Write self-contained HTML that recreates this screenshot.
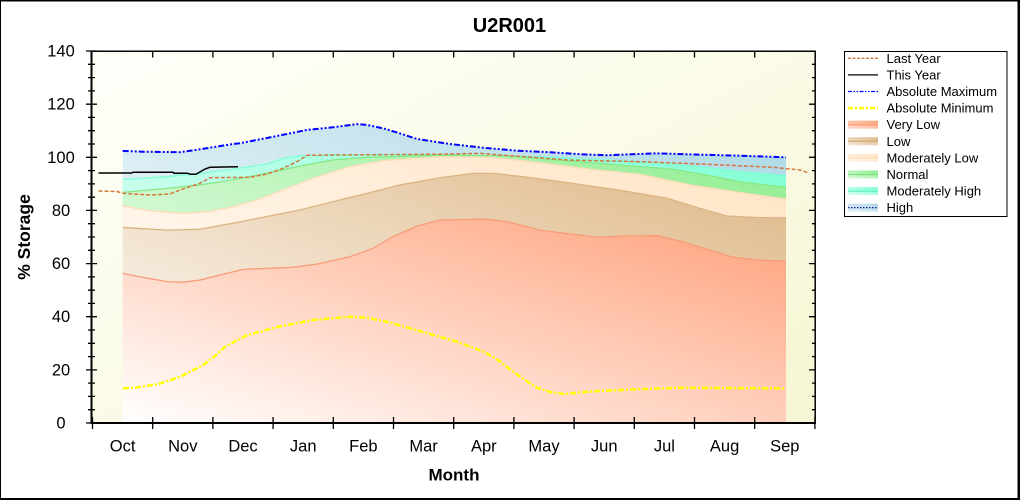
<!DOCTYPE html>
<html>
<head>
<meta charset="utf-8">
<style>
  html,body{margin:0;padding:0;background:#fff;}
  svg{display:block;font-family:"Liberation Sans",Arial,sans-serif;}
</style>
</head>
<body>
<svg width="1020" height="500" viewBox="0 0 1020 500" xmlns="http://www.w3.org/2000/svg">
  <defs>
    <linearGradient id="bg" x1="0" y1="0" x2="1" y2="1">
      <stop offset="0" stop-color="#fffffa"/>
      <stop offset="1" stop-color="#f6f6d3"/>
    </linearGradient>
    <linearGradient id="gH" x1="0" y1="0" x2="1" y2="1">
      <stop offset="0" stop-color="#ffffff"/><stop offset="1" stop-color="#add8e6"/>
    </linearGradient>
    <linearGradient id="gMH" x1="0" y1="0" x2="1" y2="1">
      <stop offset="0" stop-color="#ffffff"/><stop offset="1" stop-color="#7fffd4"/>
    </linearGradient>
    <linearGradient id="gN" x1="0" y1="0" x2="1" y2="1">
      <stop offset="0" stop-color="#ffffff"/><stop offset="1" stop-color="#90ee90"/>
    </linearGradient>
    <linearGradient id="gML" x1="0" y1="0" x2="1" y2="1">
      <stop offset="0" stop-color="#ffffff"/><stop offset="1" stop-color="#ffe4c4"/>
    </linearGradient>
    <linearGradient id="gL" x1="0" y1="0" x2="1" y2="1">
      <stop offset="0" stop-color="#ffffff"/><stop offset="1" stop-color="#deb887"/>
    </linearGradient>
    <linearGradient id="gVL" x1="0" y1="0" x2="1" y2="1">
      <stop offset="0" stop-color="#ffffff"/><stop offset="1" stop-color="#ffa07a"/>
    </linearGradient>
    <linearGradient id="sH" x1="0" y1="1" x2="1" y2="0">
      <stop offset="0" stop-color="#e6f3f7"/><stop offset="1" stop-color="#add8e6"/>
    </linearGradient>
    <linearGradient id="sMH" x1="0" y1="1" x2="1" y2="0">
      <stop offset="0" stop-color="#d8fff2"/><stop offset="1" stop-color="#7fffd4"/>
    </linearGradient>
    <linearGradient id="sN" x1="0" y1="1" x2="1" y2="0">
      <stop offset="0" stop-color="#ddf9dd"/><stop offset="1" stop-color="#90ee90"/>
    </linearGradient>
    <linearGradient id="sML" x1="0" y1="1" x2="1" y2="0">
      <stop offset="0" stop-color="#fff6ec"/><stop offset="1" stop-color="#ffe4c4"/>
    </linearGradient>
    <linearGradient id="sL" x1="0" y1="1" x2="1" y2="0">
      <stop offset="0" stop-color="#f4e9dc"/><stop offset="1" stop-color="#deb887"/>
    </linearGradient>
    <linearGradient id="sVL" x1="0" y1="1" x2="1" y2="0">
      <stop offset="0" stop-color="#ffe0d4"/><stop offset="1" stop-color="#ffa07a"/>
    </linearGradient>
  </defs>

  <rect x="0" y="0" width="1020" height="500" fill="#ffffff"/>
  <rect x="0" y="0" width="1020" height="1.5" fill="#000"/>
  <rect x="0" y="0" width="1" height="500" fill="#000"/>
  <rect x="1017.5" y="0" width="2.5" height="500" fill="#000"/>
  <rect x="0" y="498" width="1020" height="2" fill="#000"/>

  <text x="509.5" y="32" font-size="20" font-weight="bold" text-anchor="middle" fill="#000">U2R001</text>

  <rect x="92" y="51" width="723" height="372" fill="url(#bg)"/>

  <g transform="translate(0,423) scale(1,-2.657)">
    <polygon fill="url(#gH)" points="122.7,0 122.7,102.4 143,102.1 180,101.9 200,103 233,105 240,105.3 270,107.5 307,110.3 333,111.3 357,112.5 367,112.2 383,110.9 400,109 417,106.9 450,105 483,103.6 517,102.5 550,101.9 583,101.1 607,100.8 657,101.5 690,101.1 740,100.6 786,100 786,0"/>
    <polygon fill="url(#gMH)" points="122.7,0 122.7,91.7 167,92.7 200,94 233,95.5 267,97.5 283,99.6 300,100.6 333,101 440,101 540,100.2 607,99 657,98 707,96.2 740,94.6 786,93.2 786,0"/>
    <polygon fill="url(#gN)" points="122.7,0 122.7,86.8 167,88.3 200,89.6 233,91.5 267,94 300,96.7 333,99 367,100 440,100.8 507,100.6 540,99.6 590,98 640,96.5 673,95.5 707,93.3 740,90.8 786,88.7 786,0"/>
    <polygon fill="url(#gML)" points="122.7,0 122.7,81.7 150,79.9 183,78.9 210,79.6 233,81.4 257,83.9 283,87.7 317,92.7 350,96.5 383,98.7 440,100.2 490,100 540,98 590,95.5 640,93.6 690,89.6 723,87.7 757,85.8 786,84.3 786,0"/>
    <polygon fill="url(#gL)" points="122.7,0 122.7,73.6 167,72.6 200,72.9 233,75.2 267,77.7 300,80.2 333,83.3 367,86.4 400,89.6 440,92.3 473,94 493,94 523,92.7 573,90.2 623,87.4 667,84.6 700,80.8 727,77.9 760,77.3 786,77.2 786,0"/>
    <polygon fill="url(#gVL)" points="122.7,0 122.7,56.3 143,54.8 167,53.2 183,53 200,53.8 220,55.7 243,57.8 267,58.2 293,58.6 317,59.8 350,62.6 373,65.7 393,70.1 417,74.1 440,76.4 487,76.7 507,75.8 540,72.6 597,69.9 627,70.4 657,70.5 680,68.5 707,65.4 733,62.4 760,61.3 786,60.9 786,0"/>

    <g fill="none" stroke-width="1.3">
      <polyline vector-effect="non-scaling-stroke" stroke="#7fffd4" points="122.7,91.7 167,92.7 200,94 233,95.5 267,97.5 283,99.6 300,100.6 333,101 440,101 540,100.2 607,99 657,98 707,96.2 740,94.6 786,93.2"/>
      <polyline vector-effect="non-scaling-stroke" stroke="#88e888" points="122.7,86.8 167,88.3 200,89.6 233,91.5 267,94 300,96.7 333,99 367,100 440,100.8 507,100.6 540,99.6 590,98 640,96.5 673,95.5 707,93.3 740,90.8 786,88.7"/>
      <polyline vector-effect="non-scaling-stroke" stroke="#ffdcb8" points="122.7,81.7 150,79.9 183,78.9 210,79.6 233,81.4 257,83.9 283,87.7 317,92.7 350,96.5 383,98.7 440,100.2 490,100 540,98 590,95.5 640,93.6 690,89.6 723,87.7 757,85.8 786,84.3"/>
      <polyline vector-effect="non-scaling-stroke" stroke="#dcb483" points="122.7,73.6 167,72.6 200,72.9 233,75.2 267,77.7 300,80.2 333,83.3 367,86.4 400,89.6 440,92.3 473,94 493,94 523,92.7 573,90.2 623,87.4 667,84.6 700,80.8 727,77.9 760,77.3 786,77.2"/>
      <polyline vector-effect="non-scaling-stroke" stroke="#f89c78" points="122.7,56.3 143,54.8 167,53.2 183,53 200,53.8 220,55.7 243,57.8 267,58.2 293,58.6 317,59.8 350,62.6 373,65.7 393,70.1 417,74.1 440,76.4 487,76.7 507,75.8 540,72.6 597,69.9 627,70.4 657,70.5 680,68.5 707,65.4 733,62.4 760,61.3 786,60.9"/>
    </g>
  </g>

  <polyline fill="none" stroke="#ffff00" stroke-width="2.5" stroke-dasharray="6,2,2,2"
    points="123,388.5 140,387 158,384.2 180,376.8 203,365.1 215,356 225,346.7 247,335.1 279,326.6 314,319.9 350,316.7 368,317.8 390,322.5 412,328.9 457,341.7 484,351.8 498,360 511,370.1 525,380 537,387.7 550,392 564,394 591,391.4 636,389.3 680,387.7 786,388.5"/>

  <polyline fill="none" stroke="#0000ff" stroke-width="2" stroke-dasharray="6,2,2,2,2,2"
    points="122.7,150.9 143,151.7 180,152.2 200,149.3 233,144 240,143.2 270,137.4 307,129.9 333,127.3 357,124.1 367,124.9 383,128.3 400,133.4 417,139 450,144 483,147.7 517,150.7 550,152.2 583,154.4 607,155.2 657,153.3 690,154.4 740,155.7 786,157.3"/>

  <polyline fill="none" stroke="#d2783c" stroke-width="1.5" stroke-dasharray="4,2"
    points="98.5,191 117,191.5 123,193.3 150,195 170,194 180,190 200,183.3 210,177.7 250,177.3 267,174 283,168.3 297,161.7 307,155.3 400,154.5 440,154.2 480,153.3 500,155 533,157.3 567,160 640,161.7 707,164.3 773,167.3 800,170 808,172.7"/>

  <polyline fill="none" stroke="#000" stroke-width="1.5"
    points="98.5,173 132,173 133,172.3 173,172.3 174,173.3 188,173.3 190,174.3 196,174.3 205,169 210,167.3 238,166.7"/>

  <g stroke="#000" fill="none">
    <line x1="91.5" y1="50.5" x2="91.5" y2="424" stroke-width="2"/>
    <line x1="90.5" y1="423" x2="816" y2="423" stroke-width="2"/>
    <line x1="91" y1="51.2" x2="815.7" y2="51.2" stroke-width="1.5"/>
    <line x1="815.2" y1="50.5" x2="815.2" y2="423.5" stroke-width="1.5"/>
  </g>

  <path stroke="#000" stroke-width="1.3" fill="none" d="
    M86 423H97 M88 409.7H95 M88 396.4H95 M88 383.1H95
    M86 369.9H97 M88 356.6H95 M88 343.3H95 M88 330H95
    M86 316.7H97 M88 303.4H95 M88 290.2H95 M88 276.9H95
    M86 263.6H97 M88 250.3H95 M88 237H95 M88 223.7H95
    M86 210.4H97 M88 197.2H95 M88 183.9H95 M88 170.6H95
    M86 157.3H97 M88 144H95 M88 130.7H95 M88 117.4H95
    M86 104.2H97 M88 90.9H95 M88 77.6H95 M88 64.3H95
    M86 51H97"/>
  <path stroke="#000" stroke-width="1.3" fill="none" d="
    M812 409.7H815 M812 396.4H815 M812 383.1H815
    M809 369.9H815 M812 356.6H815 M812 343.3H815 M812 330H815
    M809 316.7H815 M812 303.4H815 M812 290.2H815 M812 276.9H815
    M809 263.6H815 M812 250.3H815 M812 237H815 M812 223.7H815
    M809 210.4H815 M812 197.2H815 M812 183.9H815 M812 170.6H815
    M809 157.3H815 M812 144H815 M812 130.7H815 M812 117.4H815
    M809 104.2H815 M812 90.9H815 M812 77.6H815 M812 64.3H815"/>
  <path stroke="#000" stroke-width="1.3" fill="none" d="
    M92.5 417V429 M152.7 417V429 M212.9 417V429 M273.1 417V429 M333.3 417V429
    M393.5 417V429 M453.7 417V429 M513.9 417V429 M574.1 417V429 M634.3 417V429
    M694.5 417V429 M754.7 417V429 M814.9 417V429"/>
  <path stroke="#000" stroke-width="1.3" fill="none" d="
    M152.7 51V57.5 M212.9 51V57.5 M273.1 51V57.5 M333.3 51V57.5
    M393.5 51V57.5 M453.7 51V57.5 M513.9 51V57.5 M574.1 51V57.5 M634.3 51V57.5
    M694.5 51V57.5 M754.7 51V57.5"/>

  <g font-size="16.5" text-anchor="middle" fill="#000">
    <text x="61" y="428.5">0</text>
    <text x="61" y="375.4">20</text>
    <text x="61" y="322.2">40</text>
    <text x="61" y="269.1">60</text>
    <text x="61" y="215.9">80</text>
    <text x="61" y="162.8">100</text>
    <text x="61" y="109.7">120</text>
    <text x="61" y="56.5">140</text>
  </g>

  <g font-size="16.5" text-anchor="middle" fill="#000">
    <text x="122.6" y="451.7">Oct</text>
    <text x="182.8" y="451.7">Nov</text>
    <text x="243" y="451.7">Dec</text>
    <text x="303.2" y="451.7">Jan</text>
    <text x="363.4" y="451.7">Feb</text>
    <text x="423.6" y="451.7">Mar</text>
    <text x="483.8" y="451.7">Apr</text>
    <text x="544" y="451.7">May</text>
    <text x="604.2" y="451.7">Jun</text>
    <text x="664.4" y="451.7">Jul</text>
    <text x="724.6" y="451.7">Aug</text>
    <text x="784.8" y="451.7">Sep</text>
  </g>

  <text x="454" y="480.5" font-size="17" font-weight="bold" text-anchor="middle" fill="#000">Month</text>
  <text transform="translate(30,237) rotate(-90)" x="0" y="0" font-size="17.5" font-weight="bold" text-anchor="middle" fill="#000">% Storage</text>

  <rect x="844.5" y="51.5" width="162.5" height="165" fill="#ffffff" stroke="#000" stroke-width="1"/>
  <g>
    <line x1="848" y1="58.3" x2="878" y2="58.3" stroke="#d2783c" stroke-width="1.3" stroke-dasharray="3,1.5"/>
    <line x1="848" y1="74.9" x2="878" y2="74.9" stroke="#000" stroke-width="1.3"/>
    <line x1="848" y1="91.5" x2="878" y2="91.5" stroke="#0000ff" stroke-width="1.3" stroke-dasharray="4,1.5,1.5,1.5,1.5,1.5"/>
    <line x1="848" y1="108.1" x2="878" y2="108.1" stroke="#ffff00" stroke-width="2.5" stroke-dasharray="5,2,2,2"/>

    <rect x="848" y="120.7" width="30" height="8" fill="url(#sVL)"/>
    <line x1="848" y1="124.7" x2="878" y2="124.7" stroke="#ffa07a" stroke-width="1.3"/>
    <rect x="848" y="137.3" width="30" height="8" fill="url(#sL)"/>
    <line x1="848" y1="141.3" x2="878" y2="141.3" stroke="#d6ae7c" stroke-width="1.3"/>
    <rect x="848" y="153.9" width="30" height="8" fill="url(#sML)"/>
    <line x1="848" y1="157.9" x2="878" y2="157.9" stroke="#ffdcb8" stroke-width="1.3"/>
    <rect x="848" y="170.5" width="30" height="8" fill="url(#sN)"/>
    <line x1="848" y1="174.5" x2="878" y2="174.5" stroke="#80e080" stroke-width="1.3"/>
    <rect x="848" y="187.1" width="30" height="8" fill="url(#sMH)"/>
    <line x1="848" y1="191.1" x2="878" y2="191.1" stroke="#60f0c0" stroke-width="1.3"/>
    <rect x="848" y="203.7" width="30" height="8" fill="url(#sH)"/>
    <line x1="848" y1="207.7" x2="878" y2="207.7" stroke="#00008b" stroke-width="1.2" stroke-dasharray="1.5,1.5"/>
  </g>
  <g font-size="13" fill="#000">
    <text x="886.5" y="62.8">Last Year</text>
    <text x="886.5" y="79.4">This Year</text>
    <text x="886.5" y="96">Absolute Maximum</text>
    <text x="886.5" y="112.6">Absolute Minimum</text>
    <text x="886.5" y="129.2">Very Low</text>
    <text x="886.5" y="145.8">Low</text>
    <text x="886.5" y="162.4">Moderately Low</text>
    <text x="886.5" y="179">Normal</text>
    <text x="886.5" y="195.6">Moderately High</text>
    <text x="886.5" y="212.2">High</text>
  </g>
</svg>
</body>
</html>
